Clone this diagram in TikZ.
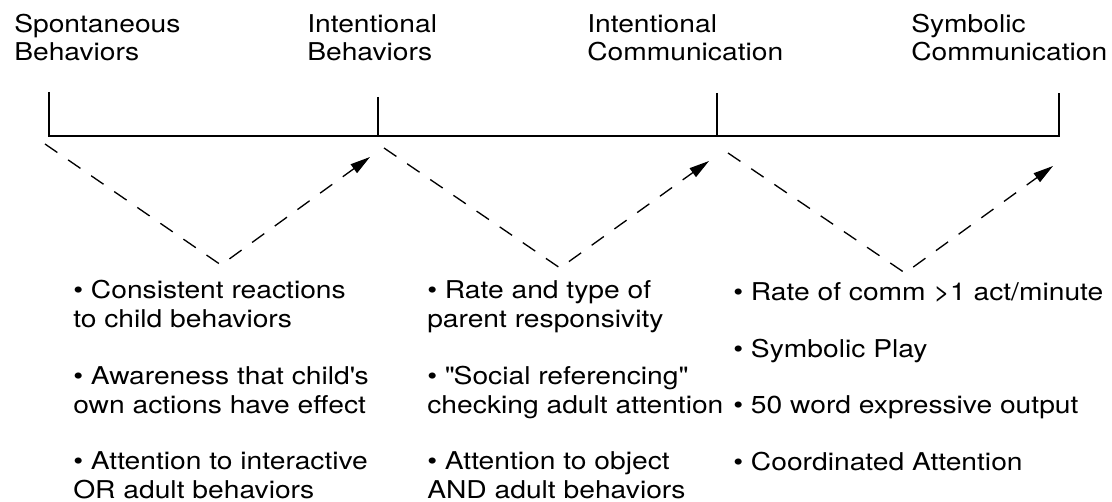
\documentclass[tikz,border=0pt]{standalone}
\usepackage{fontspec}
\setmainfont{TeX Gyre Heros}[FakeStretch=1.15]
\usepackage{tikz}
\usetikzlibrary{arrows.meta}

\begin{document}
\begin{tikzpicture}[
    x=0.75pt, y=-0.75pt,
    head/.style={anchor=base west, inner sep=0pt, align=left, font=\fontsize{18.4}{21.6}\selectfont},
    item/.style={anchor=base west, inner sep=0pt, align=left, font=\fontsize{18.4}{21.2}\selectfont},
    rule/.style={line width=1pt},
    swing/.style={line width=1pt, dash pattern=on 11.25pt off 9.75pt, -{Triangle[length=15pt, width=8pt]}}
]
\useasboundingbox (0,0) rectangle (1112,502);

\node[head] (spon) at (14,61) {Spontaneous\\Behaviors};
\node[head] (intb) at (307,61) {Intentional\\Behaviors};
\node[head] (intc) at (587,61) {Intentional\\Communication};
\node[head] (symc) at (911,61) {Symbolic\\Communication};

\coordinate (u1) at (49,92);
\coordinate (u2) at (378,97);
\coordinate (u3) at (717,93);
\coordinate (u4) at (1059,93);
\coordinate (t1) at (49,136);
\coordinate (t2) at (378,136);
\coordinate (t3) at (717,136);
\coordinate (t4) at (1059,136);
\draw[rule] (u1) -- (t1) -- (t4) -- (u4);
\draw[rule] (u2) -- (t2);
\draw[rule] (u3) -- (t3);

\coordinate (a1) at (45,144);
\coordinate (b1) at (221,265);
\coordinate (c1) at (370,157);
\coordinate (a2) at (384,148);
\coordinate (b2) at (560,268);
\coordinate (c2) at (709,161);
\coordinate (a3) at (728,153);
\coordinate (b3) at (905,273);
\coordinate (c3) at (1053,166);
\draw[swing] (a1) -- (b1) -- (c1);
\draw[swing] (a2) -- (b2) -- (c2);
\draw[swing] (a3) -- (b3) -- (c3);

\node[item] (react) at (73,327) {\textbullet\ Consistent reactions\\to child behaviors};
\node[item] (aware) at (73,413) {\textbullet\ Awareness that child\textquotesingle s\\own actions have effect};
\node[item] (inter) at (73,498) {\textbullet\ Attention to interactive\\OR adult behaviors};

\node[item] (resp) at (427,327) {\textbullet\ Rate and type of\\parent responsivity};
\node[item] (socref) at (427,413) {\textbullet\ \textquotedbl Social referencing\textquotedbl\\checking adult attention};
\node[item] (object) at (427,498) {\textbullet\ Attention to object\\AND adult behaviors};

\node[item] (rate) at (733,300) {\textbullet\ Rate of comm >1 act/minute};
\node[item] (play) at (733,357) {\textbullet\ Symbolic Play};
\node[item] (words) at (733,413) {\textbullet\ 50 word expressive output};
\node[item] (coord) at (733,470) {\textbullet\ Coordinated Attention};
\end{tikzpicture}
\end{document}
